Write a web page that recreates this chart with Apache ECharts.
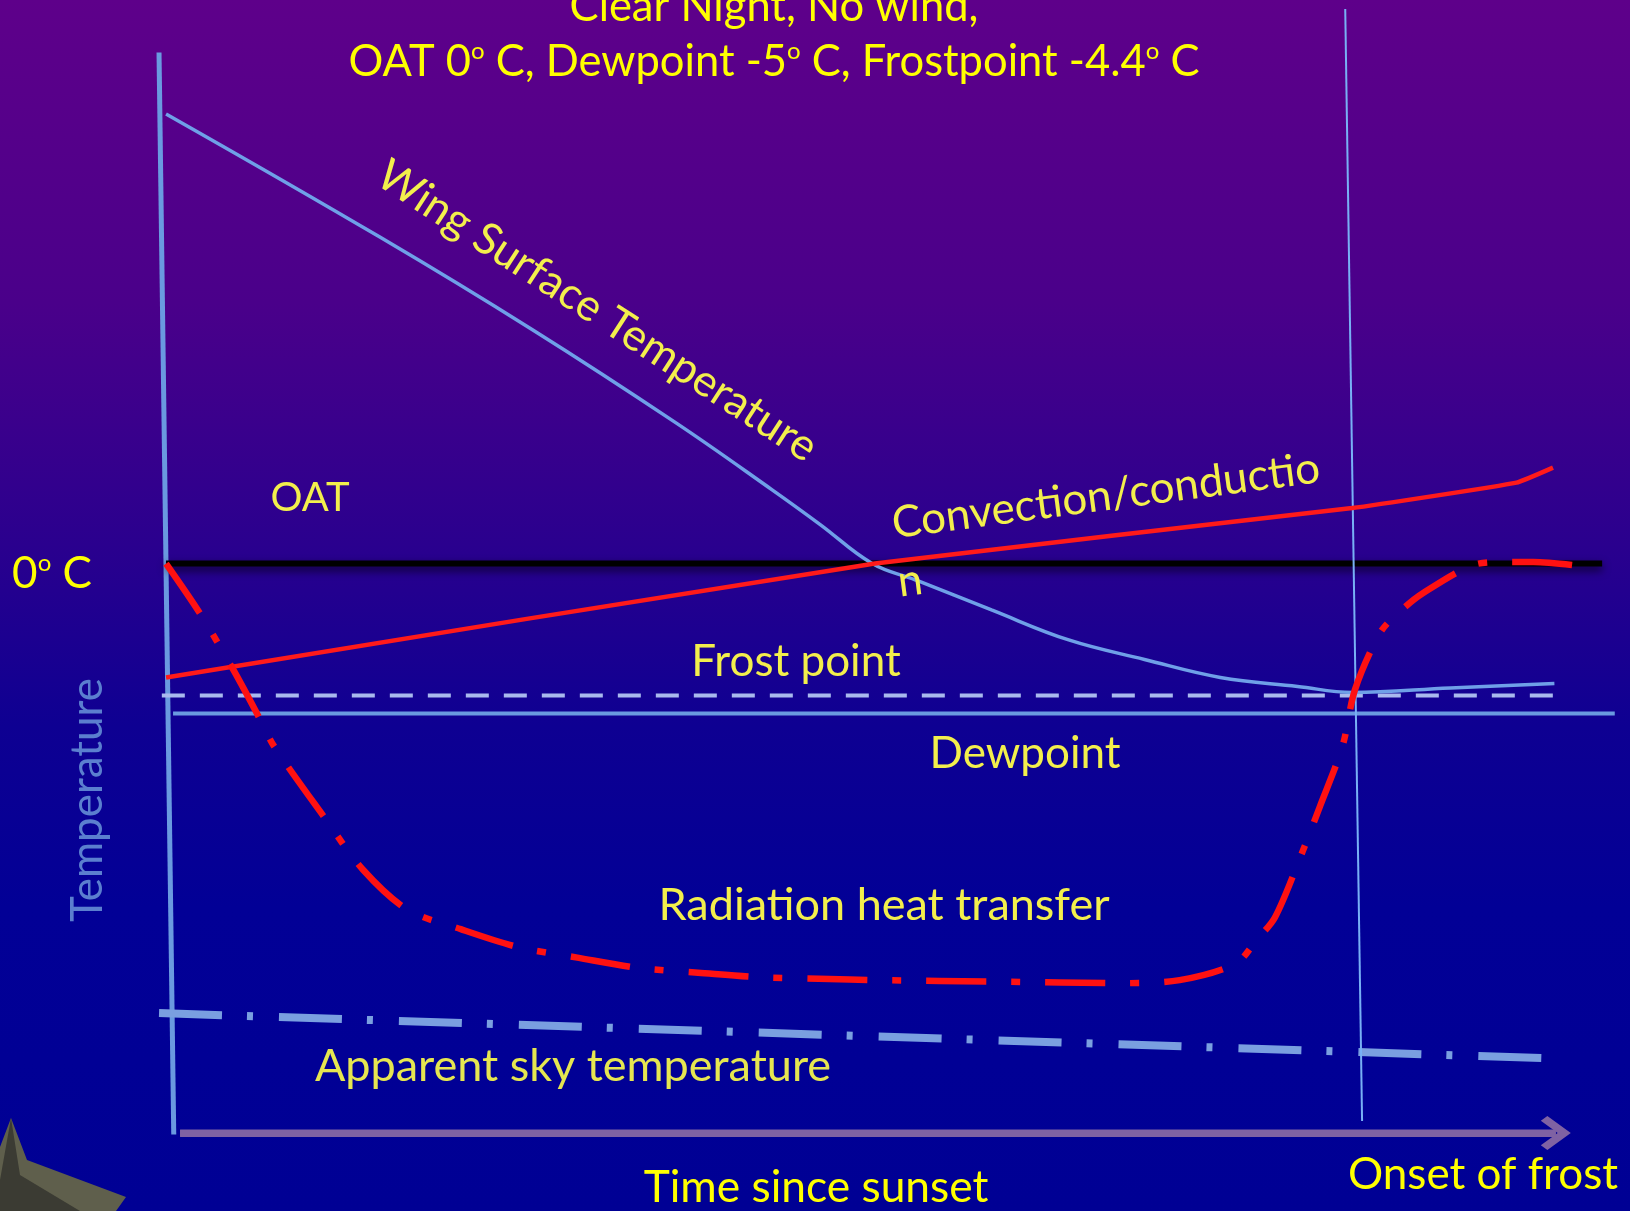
<!DOCTYPE html>
<html><head><meta charset="utf-8">
<script src="https://cdn.jsdelivr.net/npm/echarts@6/dist/echarts.min.js"></script>
<style>html,body{margin:0;padding:0;background:#000090}#c{width:1630px;height:1211px}</style>
</head><body><div id="c"></div>
<script>
// ---------- data (time units arbitrary, temperature in °C) ----------
const wingTime = [0, 15.2, 26.1, 36.3, 43.2, 46.6, 50.3, 53.4, 58.8, 64.3, 69.7, 75.1, 80.6, 84.5, 91.5, 98.9];
const wingTemp = [15.0, 10.9, 7.8, 4.7, 2.45, 1.3, 0.0, -0.55, -1.55, -2.55, -3.2, -3.8, -4.1, -4.3, -4.15, -4.0];

const convTime = [0, 50.5, 84.5, 96.2, 98.8];
const convTemp = [-3.8, 0.0, 1.85, 2.7, 3.2];

const radTime = [0, 2.4, 4.8, 6.7, 7.7, 11.25, 14.0, 17.2, 21.0, 25.1, 29.3, 33.8, 37.9, 42.3, 46.5, 50.9, 59.3, 68.0, 72.2, 76.2, 77.7, 79.0, 80.8, 82.2, 83.8, 84.7, 86.5, 87.9, 89.5, 93.1, 95.2, 97.4, 101.9];
const radTemp = [0, -1.65, -3.55, -5.2, -6.1, -8.45, -10.2, -11.55, -12.2, -12.8, -13.15, -13.5, -13.65, -13.8, -13.85, -13.9, -13.95, -14.0, -13.9, -13.35, -12.55, -11.8, -9.8, -8.1, -6.1, -4.2, -2.3, -1.6, -1.0, -0.05, 0.05, 0.05, -0.15];

const skyTime = [-0.5, 98.0];
const skyTemp = [-15.0, -16.5];

const frostTime = [-0.3, 99.3];
const frostTemp = [-4.4, -4.4];

const dewTime = [0.5, 103.2];
const dewTemp = [-5, -5];

const oatTime = [0, 102.3];
const oatTemp = [0, 0];

const onsetTime = [84.0, 85.2];
const onsetTemp = [18.5, -18.6];

const tempAxisTime = [-0.5, 0.55];
const tempAxisTemp = [17.05, -19.05];

const timeAxisTime = [1, 99];
const timeAxisTemp = [-19, -19];

// ---------- chart ----------
function pairs(xs, ys) { return xs.map(function (x, i) { return [x, ys[i]]; }); }
const FONT = 'Lato, "Open Sans", sans-serif';
const YEL = '#ffff00';
const LBL = '#f3ef4c';
const CHEVRON = 'path://M50,0 L100,50 L86,64 L50,28 L14,64 L0,50 Z';

function lineSeries(name, xs, ys, style, extra) {
  return Object.assign({
    name: name, type: 'line', data: pairs(xs, ys), symbol: 'none', clip: false,
    silent: true, lineStyle: style
  }, extra || {});
}

function txt(text, x, y, size, color, rot, rich) {
  const st = { text: text, fill: color, font: size + 'px ' + FONT, align: 'center', verticalAlign: 'middle', textAlign: 'center', textVerticalAlign: 'middle' };
  if (rich) st.rich = rich;
  return { type: 'text', x: x, y: y, rotation: rot || 0, style: st, silent: true, z: 20 };
}

const chart = echarts.init(document.getElementById('c'));
const supRich = { s: { fontSize: 24, lineHeight: 24, padding: [0, 0, 21, 0], verticalAlign: 'middle', color: YEL, fontFamily: FONT } };

chart.setOption({
  animation: false,
  backgroundColor: {
    type: 'linear', x: 0, y: 0, x2: 0, y2: 1,
    colorStops: [
      { offset: 0, color: '#5e008a' },
      { offset: 0.25, color: '#4a008a' },
      { offset: 0.45, color: '#2a008e' },
      { offset: 0.6, color: '#0e0092' },
      { offset: 0.75, color: '#020096' },
      { offset: 1, color: '#000094' }
    ]
  },
  title: {
    text: 'Clear Night, No wind,\nOAT 0{s|o} C, Dewpoint -5{s|o} C, Frostpoint -4.4{s|o} C',
    left: 774, top: -21, padding: 0, textAlign: 'center',
    textStyle: { color: YEL, fontFamily: FONT, fontSize: 43.5, fontWeight: 'normal', lineHeight: 55, rich: supRich }
  },
  grid: { left: 152, right: 4, top: 3, bottom: 63 },
  xAxis: {
    type: 'value', min: -1, max: 104,
    axisLine: { show: false }, axisTick: { show: false }, axisLabel: { show: false }, splitLine: { show: false }
  },
  yAxis: {
    type: 'value', min: -19.5, max: 18.7,
    axisLine: { show: false }, axisTick: { show: false }, axisLabel: { show: false }, splitLine: { show: false }
  },
  series: [
    lineSeries('Time since sunset', timeAxisTime, timeAxisTemp, { color: '#7f62a3', width: 7 }, {
      z: 2,
      markLine: {
        silent: true, symbol: ['none', CHEVRON], symbolSize: [34, 30],
        label: { show: false }, emphasis: { disabled: true },
        lineStyle: { color: '#7f62a3', width: 7, type: 'solid' },
        data: [[{ coord: [timeAxisTime[0], timeAxisTemp[0]] }, { coord: [timeAxisTime[1], timeAxisTemp[1]] }]]
      }
    }),
    lineSeries('Temperature axis', tempAxisTime, tempAxisTemp, { color: '#6a9ae0', width: 5 }, { z: 2 }),
    lineSeries('OAT', oatTime, oatTemp, { color: '#000000', width: 6, shadowColor: 'rgba(0,0,0,0.7)', shadowBlur: 8, shadowOffsetY: 4 }, { z: 3 }),
    lineSeries('Dewpoint', dewTime, dewTemp, { color: '#6a9ae0', width: 4 }, { z: 3 }),
    lineSeries('Frost point', frostTime, frostTemp, { color: '#a9b9ee', width: 4, type: [23, 15] }, { z: 3 }),
    lineSeries('Apparent sky temperature', skyTime, skyTemp, { color: '#7a9fe0', width: 8, type: [63, 25, 6, 26], cap: 'butt' }, { z: 3 }),
    lineSeries('Onset of frost', onsetTime, onsetTemp, { color: '#78b0f5', width: 2 }, { z: 4 }),
    lineSeries('Wing Surface Temperature', wingTime, wingTemp, { color: '#6fa0e8', width: 3.5 }, { z: 5, smooth: 0.4 }),
    lineSeries('Convection/conduction', convTime, convTemp, { color: '#ff1a1a', width: 4.5 }, { z: 6, smooth: 0.12 }),
    lineSeries('Radiation heat transfer', radTime, radTemp, { color: '#ff1111', width: 6.5, type: [60, 25, 9, 25], cap: 'butt' }, { z: 7, smooth: 0.3 })
  ],
  graphic: [
    { type: 'polygon', shape: { points: [[0, 1147], [11, 1118], [27, 1160], [126, 1197], [116, 1211], [0, 1211]] }, style: { fill: '#5f5f4c' }, silent: true },
    { type: 'polygon', shape: { points: [[0, 1180], [11, 1118], [20, 1175], [80, 1211], [0, 1211]] }, style: { fill: '#3b3b33' }, silent: true },
    txt('0{s|o} C', 52, 574, 44, YEL, 0, { s: { fontSize: 24, lineHeight: 24, padding: [0, 0, 21, 0], verticalAlign: 'middle', color: YEL, fontFamily: FONT } }),
    txt('Temperature', 88, 800, 44, '#5b7fcf', Math.PI / 2),
    txt('Wing Surface Temperature', 597, 311, 44, LBL, -33 * Math.PI / 180),
    txt('OAT', 310, 498, 40, LBL, 0),
    txt('Convection/conductio', 1106, 496, 44, LBL, 7.5 * Math.PI / 180),
    txt('n', 910, 581, 44, LBL, 7.5 * Math.PI / 180),
    txt('Frost point', 796, 662, 44, LBL, 0),
    txt('Dewpoint', 1025, 754, 44, LBL, 0),
    txt('Radiation heat transfer', 884, 905, 45, LBL, 0),
    txt('Apparent sky temperature', 573, 1066, 45, '#e6e650', 0),
    txt('Time since sunset', 816, 1188, 44.3, YEL, 0),
    txt('Onset of frost', 1483, 1175, 44, YEL, 0)
  ]
});
</script></body></html>
